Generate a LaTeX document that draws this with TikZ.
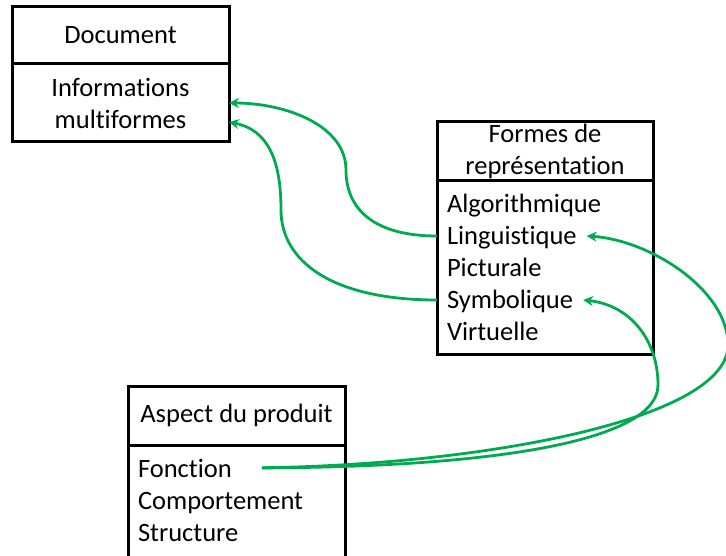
\documentclass[tikz,border=0pt]{standalone}
\usepackage{fontspec}
\setmainfont[Ligatures=NoCommon]{Carlito}
\usetikzlibrary{positioning, arrows.meta}
\definecolor{linkgreen}{RGB}{0,170,80}

\begin{document}
\begin{tikzpicture}[x=1pt, y=1pt, font=\fontsize{26.5}{32}\selectfont,
  box/.style = {draw, line width=3pt, outer sep=0pt, inner sep=0pt, align=center},
  item/.style = {inner xsep=10pt, inner ysep=0pt, text height=25pt, text depth=7pt, outer sep=0pt},
  link/.style = {draw=linkgreen, line width=2.8pt, -{Stealth[length=10pt, width=10pt]}}]
            \useasboundingbox (0,0) rectangle (726,555);
            % document
            \node[box, minimum width=217pt, minimum height=57pt] (doc) at (120.5,519.5) {Document};
            \node[box, minimum width=217pt, minimum height=78pt] (info) [below=0pt of doc] {Informations\\multiformes};
            % formes de representation
            \node[box, minimum width=216pt, minimum height=59pt] (form) at (545,403.5) {Formes de\\représentation};
            \node[box, minimum width=216pt, minimum height=174pt] (formbody) [below=0pt of form] {};
            \node[item] (algo) [below right=7pt and 0pt of formbody.north west] {Algorithmique};
            \node[item] (ling) [below right=0pt of algo.south west] {Linguistique};
            \node[item] (pict) [below right=0pt of ling.south west] {Picturale};
            \node[item] (sym) [below right=0pt of pict.south west] {Symbolique};
            \node[item] (virt) [below right=0pt of sym.south west] {Virtuelle};
            % aspect du produit
            \node[box, minimum width=217pt, minimum height=59pt] (asp) at (236.5,139.5) {Aspect du produit};
            \node[box, minimum width=217pt, minimum height=130pt] (aspbody) [below=0pt of asp] {};
            \node[item] (fonc) [below right=7pt and 0pt of aspbody.north west] {Fonction};
            \node[item] (comp) [below right=0pt of fonc.south west] {Comportement};
            \node[item] (struc) [below right=0pt of comp.south west] {Structure};
            % liens
            \draw[link] (ling.west) .. controls (375,319) and (346,345) .. (346,385)
                .. controls (346,430) and (285,452) .. (info.east);
            \draw[link] (sym.west) .. controls (330,255) and (281,295) .. (281,345)
                .. controls (281,395) and (268,425) .. ([yshift=-19pt]info.east);
            \draw[link, shorten <=20pt] (fonc.east) .. controls (480,90) and (728,135) .. (728,210)
                .. controls (728,265) and (650,315) .. (ling.east);
            \draw[link, shorten <=20pt] (fonc.east) .. controls (500,88) and (658,115) .. (658,170)
                .. controls (658,215) and (630,250) .. (sym.east);
        \end{tikzpicture}
\end{document}
